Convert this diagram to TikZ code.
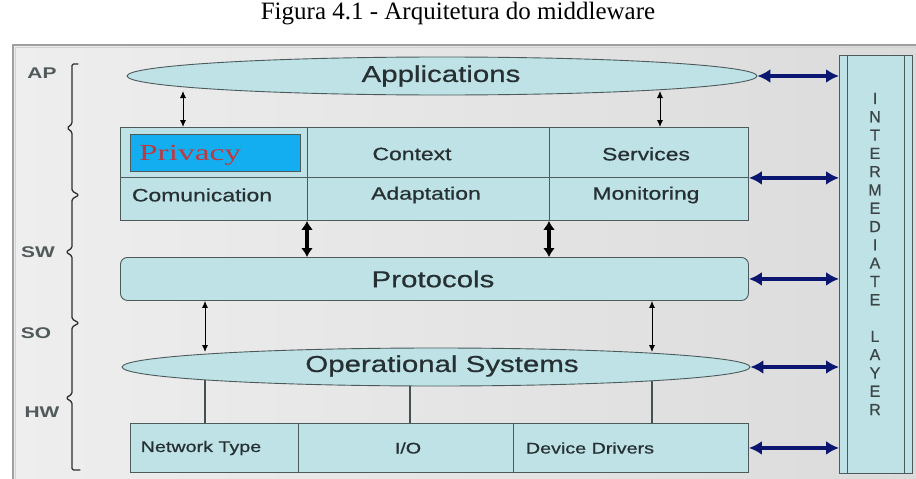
\documentclass[tikz,border=0pt]{standalone}
\usepackage{fontspec}
\setmainfont{Liberation Serif}
\setsansfont{Liberation Sans}
\newfontfamily\heavysans[FakeBold=0.6]{Liberation Sans}
\usepackage{graphicx}
\usetikzlibrary{shapes.geometric,arrows.meta}

\definecolor{cellfill}{HTML}{BEE2E6}
\definecolor{edgegray}{HTML}{4C5A5C}
\definecolor{navyarrow}{HTML}{0B1670}
\definecolor{privfill}{HTML}{12AEEF}
\definecolor{privtext}{HTML}{C0393F}
\definecolor{labelgray}{HTML}{263032}
\definecolor{bracegray}{HTML}{2E2E2E}

% horizontally widened text
\newcommand{\wtext}[2][1.28]{\scalebox{#1}[1]{#2}}
\newcommand{\fsz}[1]{\fontsize{#1}{#1}\selectfont}

\begin{document}
\begin{tikzpicture}[x=1pt,y=-1pt,
  cellbox/.style={draw=edgegray, fill=cellfill, line width=0.9pt, rectangle,
                  inner sep=0pt, anchor=north west},
  ovalbox/.style={draw=edgegray, fill=cellfill, line width=0.9pt, ellipse,
                  inner sep=0pt},
  celltext/.style={text=labelgray, inner sep=0pt, font=\heavysans\fsz{17.9}},
  lowtext/.style={text=labelgray, inner sep=0pt, font=\heavysans\fsz{15.4}},
  bigtext/.style={text=labelgray, inner sep=0pt, font=\heavysans\fsz{23}},
  sidetext/.style={text=labelgray!80!white, inner sep=0pt, font=\sffamily\bfseries\fsz{15.5}},
  smallarr/.style={draw=black, line width=0.9pt, {Latex[length=7pt,width=6pt]}-{Latex[length=7pt,width=6pt]}},
  thickarr/.style={draw=black, line width=3.6pt, {Latex[length=9pt,width=12pt]}-{Latex[length=9pt,width=12pt]}},
  navyarr/.style={draw=navyarrow, line width=4.5pt, {Latex[length=13pt,width=14pt]}-{Latex[length=13pt,width=14pt]}},
  plainline/.style={draw=edgegray!90!black, line width=1.2pt},
  brace/.style={draw=bracegray, line width=1.3pt, line join=round, line cap=round, rounded corners=1.5pt}
]
\useasboundingbox (0,0) rectangle (916,479);

% page and panel background
\fill[white] (0,0) rectangle (916,479);
\shade[left color={rgb,255:red,238;green,238;blue,238}, right color={rgb,255:red,219;green,219;blue,219}]
  (13,45) rectangle (916,479);
\draw[gray!75, line width=1.6pt] (13,479) -- (13,45) -- (916,45);
\draw[gray!35, line width=0.8pt] (15,479) -- (15,47) -- (916,47);

% caption
\node[inner sep=0pt, font=\fsz{25}] (caption) at (458,14) {Figura 4.1 - Arquitetura do middleware};

% left layer braces
\draw[brace] (78,64) -- (72,64) -- (72,124) -- (67,128) -- (72,132) -- (72,191)
  -- (79,195) -- (72,199) -- (72,248) -- (66,252) -- (72,256) -- (72,319)
  -- (79,323) -- (72,327) -- (72,394) -- (66,398) -- (72,402) -- (72,470) -- (80,470);
\node[sidetext] (lAP) at (42,73) {\wtext[1.35]{AP}};
\node[sidetext] (lSW) at (38,252) {\wtext[1.35]{SW}};
\node[sidetext] (lSO) at (36,333) {\wtext[1.35]{SO}};
\node[sidetext] (lHW) at (42,412) {\wtext[1.35]{HW}};

% applications
\node[ovalbox, minimum width=630pt, minimum height=38pt] (apps) at (442,76) {};
\node[bigtext] (tapps) at (441,76) {\wtext{Applications}};

% middleware services block
\node[cellbox, minimum width=187pt, minimum height=50pt] (priv) at (120,127) {};
\node[cellbox, minimum width=242pt, minimum height=50pt] (ctx)  at (307,127) {};
\node[cellbox, minimum width=199pt, minimum height=50pt] (svc)  at (549,127) {};
\node[cellbox, minimum width=187pt, minimum height=43pt] (com)  at (120,177) {};
\node[cellbox, minimum width=242pt, minimum height=43pt] (adp)  at (307,177) {};
\node[cellbox, minimum width=199pt, minimum height=43pt] (mon)  at (549,177) {};

\node[draw=edgegray, line width=0.9pt, fill=privfill, rectangle, inner sep=0pt,
      minimum width=170pt, minimum height=37pt] (privbox) at (215,152.5) {};
\node[inner sep=0pt, anchor=west, text=privtext, font=\fsz{23}] (tpriv) at (139,155) {\wtext[1.45]{Privacy}};

\node[celltext] (tctx) at (412,154) {\wtext{Context}};
\node[celltext] (tsvc) at (646,154) {\wtext{Services}};
\node[celltext] (tcom) at (202,195) {\wtext{Comunication}};
\node[celltext] (tadp) at (426,195) {\wtext{Adaptation}};
\node[celltext] (tmon) at (646,195) {\wtext{Monitoring}};

% protocols
\node[draw=edgegray, fill=cellfill, line width=0.9pt, rectangle, rounded corners=7pt,
      inner sep=0pt, anchor=north west, minimum width=628pt, minimum height=43pt] (proto) at (120,257) {};
\node[bigtext] (tproto) at (433,279) {\wtext{Protocols}};

% hardware block
\node[cellbox, minimum width=168pt, minimum height=49pt] (net) at (130,423) {};
\node[cellbox, minimum width=215pt, minimum height=49pt] (io)  at (298,423) {};
\node[cellbox, minimum width=235pt, minimum height=49pt] (drv) at (513,423) {};
\node[lowtext] (tnet) at (201,448) {\wtext{Network Type}};
\node[lowtext] (tio)  at (408,448) {\wtext{I/O}};
\node[lowtext] (tdrv) at (590,448) {\wtext{Device Drivers}};

% links from operational systems down to hardware (drawn beneath the oval)
\coordinate (hL) at (205,370);
\coordinate (hM) at (410,370);
\coordinate (hR) at (652,370);
\draw[plainline] (hL) -- (hL |- net.north);
\draw[plainline] (hM) -- (hM |- io.north);
\draw[plainline] (hR) -- (hR |- drv.north);

% operational systems
\node[ovalbox, minimum width=628pt, minimum height=38pt] (os) at (436,367) {};
\node[bigtext] (tos) at (442,366) {\wtext{Operational Systems}};

% intermediate layer
\node[draw=edgegray, fill=cellfill, line width=0.9pt, rectangle, inner sep=0pt,
      anchor=north west, minimum width=73pt, minimum height=418pt] (ilayer) at (839,55) {};
\draw[edgegray, line width=0.9pt] ([xshift=8pt]ilayer.north west) -- ([xshift=8pt]ilayer.south west);
\draw[edgegray, line width=0.9pt] ([xshift=-8pt]ilayer.north east) -- ([xshift=-8pt]ilayer.south east);
\node[inner sep=0pt, align=center, text=labelgray!90!white, font=\heavysans\fontsize{16}{18.3}\selectfont] (tlayer) at (875,254)
  {I\\N\\T\\E\\R\\M\\E\\D\\I\\A\\T\\E\\\mbox{}\\L\\A\\Y\\E\\R};

% small links between applications and services block
\coordinate (aL) at (183,91);
\coordinate (aR) at (660,91);
\draw[smallarr] (aL) -- (aL |- priv.north);
\draw[smallarr] (aR) -- (aR |- svc.north);

% heavy links between services block and protocols
\draw[thickarr] (adp.south west) -- (adp.south west |- proto.north);
\draw[thickarr] (mon.south west) -- (mon.south west |- proto.north);

% small links between protocols and operational systems
\coordinate (bL) at (205,352);
\coordinate (bR) at (652,352);
\draw[smallarr] (bL |- proto.south) -- (bL);
\draw[smallarr] (bR |- proto.south) -- (bR);

% links to the intermediate layer
\draw[navyarr] (apps.east) -- (apps.east -| ilayer.west);
\draw[navyarr] (svc.south east) -- (svc.south east -| ilayer.west);
\draw[navyarr] (proto.east) -- (proto.east -| ilayer.west);
\draw[navyarr] (os.east) -- (os.east -| ilayer.west);
\draw[navyarr] (drv.east) -- (drv.east -| ilayer.west);
\end{tikzpicture}
\end{document}
